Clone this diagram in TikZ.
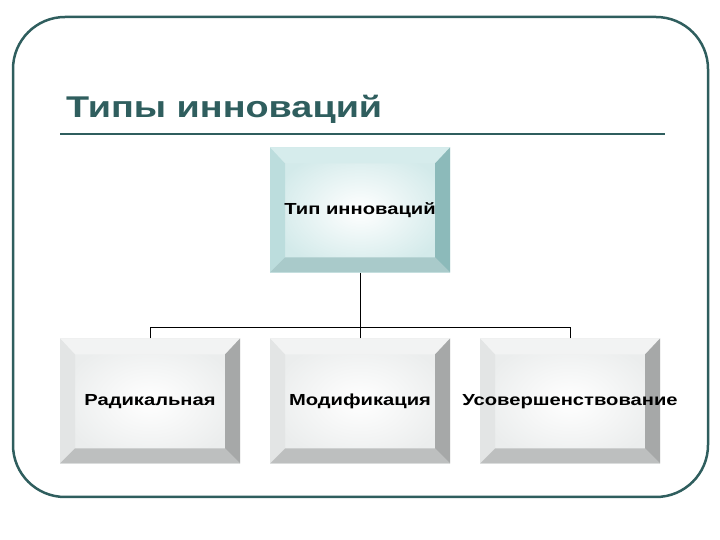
\documentclass[tikz,border=0pt]{standalone}
\usepackage{fontspec}
\setmainfont{Liberation Sans}
\newfontfamily\widefont[FakeStretch=1.26]{Liberation Sans}
\definecolor{frameteal}{HTML}{2F5E5E}
\definecolor{tealtop}{HTML}{D6ECEC}
\definecolor{tealleft}{HTML}{BCDDDD}
\definecolor{tealright}{HTML}{8CBABA}
\definecolor{tealbot}{HTML}{A9CACA}
\definecolor{tealface}{HTML}{D3EAEA}
\definecolor{greytop}{HTML}{F2F3F3}
\definecolor{greyleft}{HTML}{E3E5E5}
\definecolor{greyright}{HTML}{A6A8A8}
\definecolor{greybot}{HTML}{BDBFBF}
\definecolor{greyface}{HTML}{EBEDED}
% four bevel faces of a box, drawn inside its path picture
\newcommand\bevels[4]{%
  \coordinate (bbnw) at (path picture bounding box.north west);
  \coordinate (bbse) at (path picture bounding box.south east);
  \coordinate (bbne) at (bbnw -| bbse);
  \coordinate (bbsw) at (bbse -| bbnw);
  \fill[#1] (bbnw) -- (bbne) -- ([shift={(-15pt,-16pt)}]bbne) -- ([shift={(15pt,-16pt)}]bbnw) -- cycle;
  \fill[#2] (bbnw) -- (bbsw) -- ([shift={(15pt,15pt)}]bbsw) -- ([shift={(15pt,-16pt)}]bbnw) -- cycle;
  \fill[#3] (bbne) -- (bbse) -- ([shift={(-15pt,15pt)}]bbse) -- ([shift={(-15pt,-16pt)}]bbne) -- cycle;
  \fill[#4] (bbsw) -- (bbse) -- ([shift={(-15pt,15pt)}]bbse) -- ([shift={(15pt,15pt)}]bbsw) -- cycle;
}
\tikzset{
  bevelbox/.style={minimum width=180pt, minimum height=125pt, inner sep=0pt,
    text height=1em, text depth=0.1em,
    execute at begin node={\hbox to 0pt\bgroup\hss},
    execute at end node={\hss\egroup},
    font=\widefont\bfseries\fontsize{16}{19}\selectfont},
  tealbox/.style={bevelbox, inner color=white, outer color=tealface,
    path picture={\bevels{tealtop}{tealleft}{tealright}{tealbot}}},
  greybox/.style={bevelbox, inner color=white, outer color=greyface,
    path picture={\bevels{greytop}{greyleft}{greyright}{greybot}}},
  link/.style={line width=1pt},
}
\begin{document}
\begin{tikzpicture}[x=1pt, y=1pt]
\useasboundingbox (0,0) rectangle (720,540);
% slide frame and title
\draw[frameteal, line width=2.5pt, rounded corners=52pt] (13,43) rectangle (708,523);
\node[anchor=base west, inner sep=0pt, text=frameteal,
  font=\widefont\bfseries\fontsize{30}{36}\selectfont] (title) at (66,422) {Типы инноваций};
\draw[frameteal, line width=2.5pt] (60,406) -- (665,406);
% boxes
\node[tealbox] (type) at (360,330) {Тип инноваций};
\node[greybox] (radical) at (150,139) {Радикальная};
\node[greybox] (modif) at (360,139) {Модификация};
\node[greybox] (improve) at (570,139) {Усовершенствование};
% connectors
\coordinate (fork) at (360,212);
\draw[link] (type.south) -- (fork);
\draw[link] (radical.north) |- (fork);
\draw[link] (improve.north) |- (fork);
\draw[link] (modif.north) -- (fork);
\end{tikzpicture}
\end{document}
